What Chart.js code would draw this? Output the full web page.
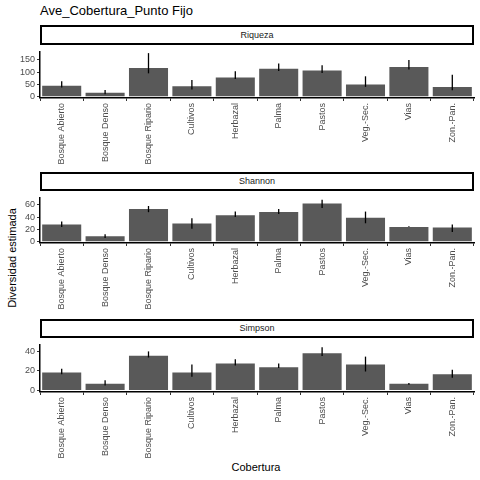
<!DOCTYPE html><html><head><meta charset="utf-8">
<script src="https://cdn.jsdelivr.net/npm/chart.js@4"></script>
<style>
body{margin:0;width:480px;height:480px;position:relative;background:#fff;font-family:"Liberation Sans",Arial,sans-serif;overflow:hidden}
.strip{position:absolute;left:40px;width:434px;border:2px solid #000;box-sizing:border-box;background:#fff;text-align:center;font-size:9px;color:#1a1a1a;z-index:2}
.c{position:absolute;left:0;width:480px}
</style></head><body>
<div style="position:absolute;left:40px;top:3px;font-size:13px;color:#000">Ave_Cobertura_Punto Fijo</div>
<div style="position:absolute;left:12px;top:258px;transform:translate(-50%,-50%) rotate(-90deg);font-size:11px;white-space:nowrap">Diversidad estimada</div>
<div style="position:absolute;left:256px;top:461px;transform:translateX(-50%);font-size:11px">Cobertura</div>
<div class="strip" style="top:25px;height:20px;line-height:16px">Riqueza</div>
<div class="strip" style="top:172px;height:19px;line-height:15px">Shannon</div>
<div class="strip" style="top:319px;height:19px;line-height:15px">Simpson</div>
<div class="c" style="top:44px;height:126px"><canvas id="c1"></canvas></div>
<div class="c" style="top:190px;height:125px"><canvas id="c2"></canvas></div>
<div class="c" style="top:337px;height:127px"><canvas id="c3"></canvas></div>
<script>
const categories=["Bosque Abierto","Bosque Denso","Bosque Ripario","Cultivos","Herbazal","Palma","Pastos","Veg.-Sec.","Vias","Zon.-Pan."];
const riqueza=[45,16,117,43,78,114,107,50,121,40];
const riquezaLo=[38,10,95,29,72,104,96,40,111,26];
const riquezaHi=[63,27,177,68,103,135,128,83,149,89];
const riquezaTicks=[0,50,100,150];
const shannon=[28,9,53,29.5,43,48.5,62,39,24,23];
const shannonLo=[24,6,48,21,40,45,55,30,24,16];
const shannonHi=[33,12,58,38,49,53,68,49,25,28];
const shannonTicks=[0,20,40,60];
const simpson=[18.4,6.8,35.3,18.4,27.3,23.7,37.9,26.4,6.8,16.6];
const simpsonLo=[16.6,5,33.5,13.9,25.5,22.8,35,19.3,5.9,13];
const simpsonHi=[22,10.4,39.7,26.4,31.7,27.3,44,34.4,7.7,21];
const simpsonTicks=[0,10,20,30,40];
const errPlugin={id:'err',afterDatasetsDraw(ch){const ctx=ch.ctx,x=ch.scales.x,y=ch.scales.y;const lo=ch.config.options.plugins.err.lo,hi=ch.config.options.plugins.err.hi;ctx.save();ctx.strokeStyle='#000';ctx.lineWidth=1.3;lo.forEach((l,i)=>{const px=x.getPixelForValue(i);ctx.beginPath();ctx.moveTo(px,y.getPixelForValue(l));ctx.lineTo(px,y.getPixelForValue(hi[i]));ctx.stroke();});ctx.restore();}};
function make(id,data,lo,hi,min,max,ticks){
new Chart(document.getElementById(id),{type:'bar',data:{labels:categories,datasets:[{data:data,backgroundColor:'#595959',categoryPercentage:0.9,barPercentage:1}]},
options:{responsive:true,maintainAspectRatio:false,animation:false,layout:{padding:{left:0,right:6,top:0,bottom:0}},
plugins:{legend:{display:false},tooltip:{enabled:false},err:{lo:lo,hi:hi}},
scales:{x:{afterFit(s){s.height=72},grid:{display:true,drawOnChartArea:false,color:'#333',tickLength:3},border:{color:'#000',width:1.5},ticks:{color:'#4d4d4d',font:{size:9,family:'Liberation Sans'},maxRotation:90,minRotation:90,padding:2,autoSkip:false}},
y:{min:min,max:max,afterFit(s){s.width=40},afterBuildTicks(s){s.ticks=ticks.map(v=>({value:v}))},grid:{display:true,drawOnChartArea:false,color:'#333',tickLength:3},border:{color:'#000',width:1.5},ticks:{color:'#4d4d4d',font:{size:9,family:'Liberation Sans'},padding:2}}}},plugins:[errPlugin]});}
make('c1',riqueza,riquezaLo,riquezaHi,-5,184,riquezaTicks);
make('c2',shannon,shannonLo,shannonHi,-2,72,shannonTicks);
make('c3',simpson,simpsonLo,simpsonHi,-1.5,46.8,simpsonTicks);
</script></body></html>
